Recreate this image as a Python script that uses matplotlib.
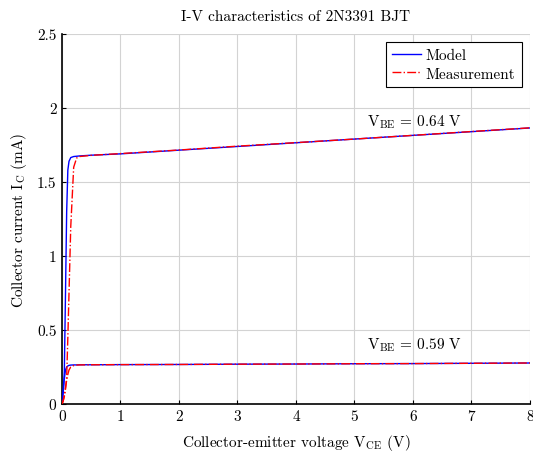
import matplotlib
matplotlib.use("Agg")
import matplotlib.pyplot as plt

plt.rcParams["font.family"] = "serif"
plt.rcParams["font.serif"] = ["cmr10"]
plt.rcParams["mathtext.fontset"] = "cm"
plt.rcParams["axes.formatter.use_mathtext"] = True

# Collector-emitter voltage samples (V)
vce = [0, 0.02, 0.04, 0.06, 0.08, 0.10, 0.12, 0.15, 0.20, 0.25, 0.30,
       0.5, 1, 2, 3, 4, 5, 6, 7, 8]

# Collector current (mA), VBE = 0.64 V
ic_model_064 = [0, 0.08, 0.22, 0.75, 1.30, 1.58, 1.64, 1.665, 1.672, 1.674,
                1.676, 1.681, 1.690, 1.715, 1.740, 1.765, 1.790, 1.815, 1.840, 1.865]
ic_meas_064 = [0, 0.02, 0.05, 0.10, 0.18, 0.45, 0.75, 1.20, 1.60, 1.662,
               1.672, 1.680, 1.692, 1.716, 1.742, 1.766, 1.790, 1.815, 1.841, 1.866]

# Collector current (mA), VBE = 0.59 V
ic_model_059 = [0, 0.08, 0.17, 0.23, 0.25, 0.257, 0.261, 0.263, 0.264, 0.264,
                0.265, 0.265, 0.266, 0.267, 0.269, 0.270, 0.272, 0.273, 0.275, 0.277]
ic_meas_059 = [0, 0.02, 0.06, 0.11, 0.16, 0.20, 0.23, 0.25, 0.26, 0.263,
               0.264, 0.265, 0.266, 0.267, 0.269, 0.270, 0.272, 0.273, 0.275, 0.277]

x_ticks = [0, 1, 2, 3, 4, 5, 6, 7, 8]
x_tick_labels = ["0", "1", "2", "3", "4", "5", "6", "7", "8"]
y_ticks = [0, 0.5, 1, 1.5, 2, 2.5]
y_tick_labels = ["0", "0.5", "1", "1.5", "2", "2.5"]

fig = plt.figure(figsize=(5.33, 4.52), dpi=100)
ax = fig.add_axes([0.1163, 0.104, 0.878, 0.8186])

ax.plot(vce, ic_model_064, color="blue", lw=1.0, label="Model", zorder=3)
ax.plot(vce, ic_meas_064, color="red", lw=1.0, ls="-.", label="Measurement", zorder=4)
ax.plot(vce, ic_model_059, color="blue", lw=1.0, zorder=3)
ax.plot(vce, ic_meas_059, color="red", lw=1.0, ls="-.", zorder=4)

ax.text(5.21, 1.91, r"$\mathrm{V}_{\mathrm{BE}}\,=\,0.64\ \mathrm{V}$", fontsize=11, va="center")
ax.text(5.21, 0.405, r"$\mathrm{V}_{\mathrm{BE}}\,=\,0.59\ \mathrm{V}$", fontsize=11, va="center")

ax.set_xlim(0, 8)
ax.set_ylim(0, 2.5)
ax.set_xticks(x_ticks)
ax.set_xticklabels(x_tick_labels)
ax.set_yticks(y_ticks)
ax.set_yticklabels(y_tick_labels)
ax.tick_params(direction="in", length=3, width=0.8, labelsize=11, pad=4)

ax.grid(True, color="#d3d3d3", lw=0.8)
ax.set_axisbelow(True)
for side in ("top", "right"):
    ax.spines[side].set_visible(False)
for side in ("left", "bottom"):
    ax.spines[side].set_linewidth(1.2)
    ax.spines[side].set_color("black")

ax.set_title("I-V characteristics of 2N3391 BJT", fontsize=11, pad=10)
ax.set_xlabel(r"Collector-emitter voltage $\mathrm{V}_{\mathrm{CE}}$ (V)", fontsize=11, labelpad=6)
ax.set_ylabel(r"Collector current $\mathrm{I}_{\mathrm{C}}$ (mA)", fontsize=11, labelpad=6)

leg = ax.legend(loc="upper right", fontsize=11, fancybox=False, framealpha=1,
                edgecolor="black", borderaxespad=0.55, handlelength=1.9,
                handletextpad=0.3, borderpad=0.4, labelspacing=0.3)
leg.get_frame().set_linewidth(0.8)

fig.savefig("out.png", dpi=100)
